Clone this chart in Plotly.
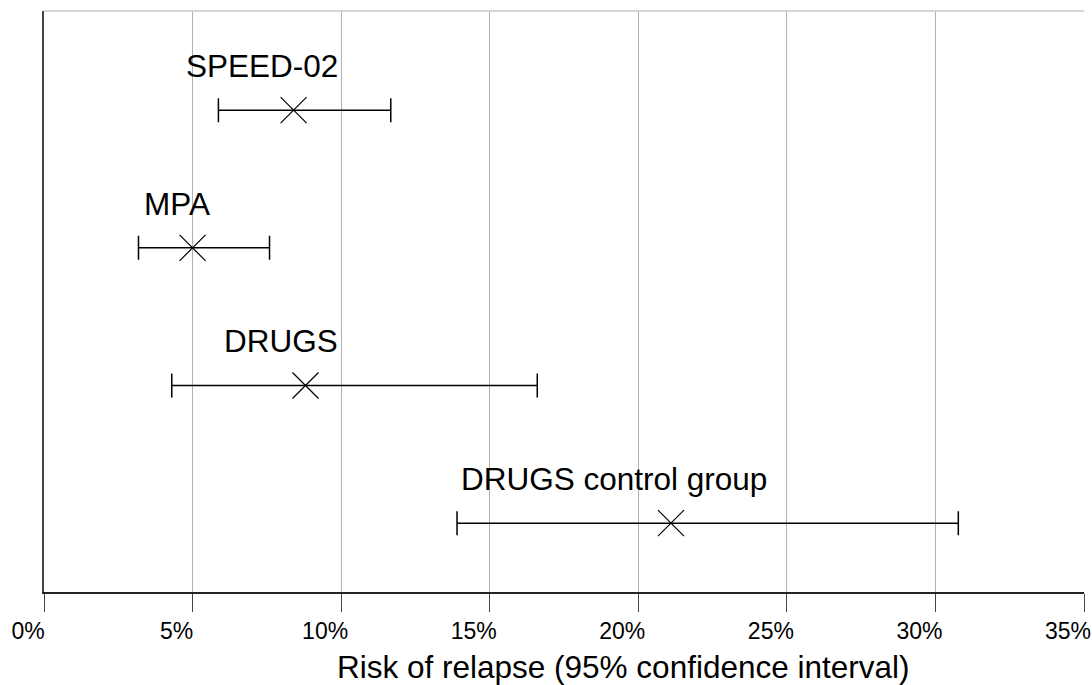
import plotly.graph_objects as go

studies = ["SPEED-02", "MPA", "DRUGS", "DRUGS control group"]
risk = [8.4, 5.0, 8.8, 21.1]
ci_low = [5.87, 3.18, 4.30, 13.9]
ci_high = [11.67, 7.59, 16.6, 30.77]
row = [4, 3, 2, 1]
tick_vals = [0, 5, 10, 15, 20, 25, 30, 35]
tick_text = ["0%", "5%", "10%", "15%", "20%", "25%", "30%", "35%"]
x_title = "Risk of relapse (95% confidence interval)"

# label left-edge positions (layout)
label_x = [4.72, 3.3, 6.0, 13.95]

FONT = "Liberation Sans, Arial, Helvetica, sans-serif"

fig = go.Figure()
fig.add_trace(go.Scatter(
    x=risk, y=row, mode="markers",
    marker=dict(symbol="x-thin-open", size=26, color="black",
                line=dict(color="black", width=1.2)),
    error_x=dict(type="data", symmetric=False,
                 array=[h - r for h, r in zip(ci_high, risk)],
                 arrayminus=[r - l for r, l in zip(risk, ci_low)],
                 color="black", thickness=1.5, width=12),
    showlegend=False, hoverinfo="skip",
))

for name, lx, yy in zip(studies, label_x, row):
    fig.add_annotation(x=lx, y=yy, text=name, showarrow=False,
                       xanchor="left", yanchor="middle", yshift=44,
                       font=dict(size=31.5, color="black", family=FONT))

# axis title (offset to the right as in the reference)
fig.add_annotation(xref="paper", yref="paper", x=0.557, y=-0.129,
                   text=x_title, showarrow=False,
                   xanchor="center", yanchor="middle",
                   font=dict(size=31.5, color="black", family=FONT))

fig.add_shape(type="line", xref="paper", yref="paper", x0=0, x1=1, y0=1, y1=1,
              line=dict(color="#c8c8c8", width=1.5))

fig.update_layout(
    width=1092, height=685,
    margin=dict(l=44, r=8, t=11, b=93),
    plot_bgcolor="white", paper_bgcolor="white",
    font=dict(family=FONT, color="black"),
    xaxis=dict(range=[0, 35], tickvals=tick_vals, ticktext=tick_text,
               showgrid=True, gridcolor="#b0b0b0", gridwidth=1,
               zeroline=False, showline=True, linecolor="#222222", linewidth=1.5,
               ticks="outside", ticklen=18, tickcolor="#444444",
               ticklabelshift=-16, automargin=False,
               tickfont=dict(size=23, color="black")),
    yaxis=dict(range=[0.5, 4.72], showticklabels=False, showgrid=False,
               zeroline=False, showline=True, linecolor="#444444", linewidth=1.5,
               ticks="", automargin=False),
)

fig.write_html("out.html", config={"displayModeBar": False},
               post_script="document.body.style.margin='0';document.body.style.overflow='hidden';")
